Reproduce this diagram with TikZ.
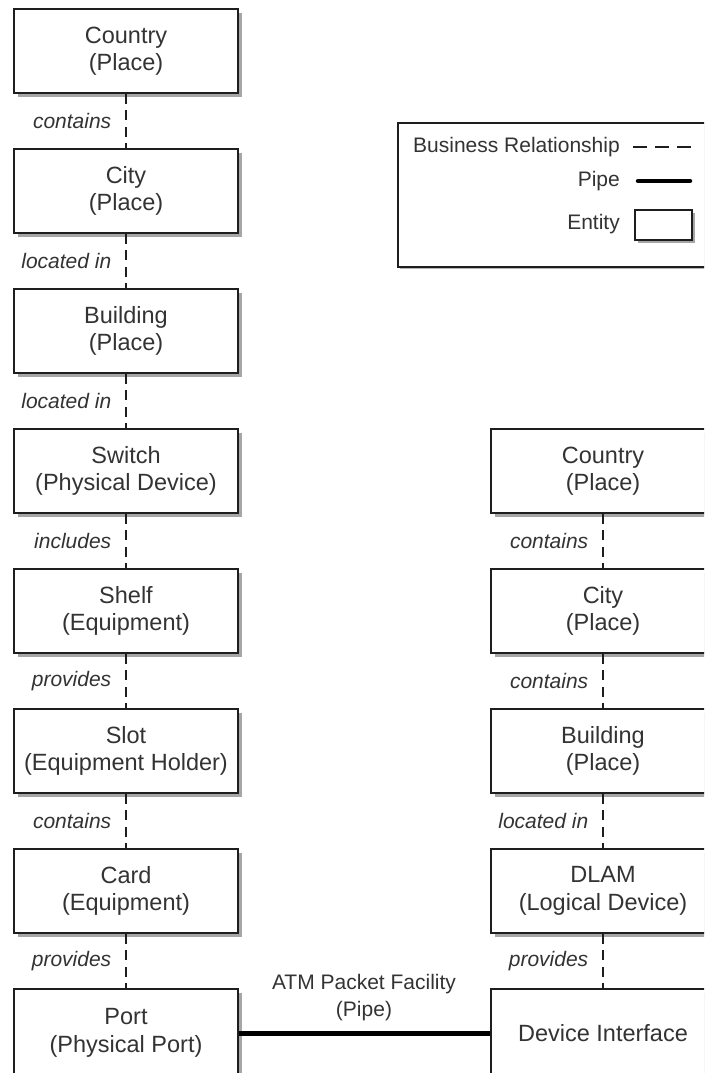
\documentclass[tikz,border=0pt]{standalone}
\usepackage{fontspec}
\setmainfont{Liberation Sans}
\usetikzlibrary{shadows}
\definecolor{txt}{HTML}{333333}
\definecolor{edge}{HTML}{1E1E1E}
\begin{document}
\begin{tikzpicture}[x=1pt,y=-1pt,
  entity/.style={draw=edge, line width=1.5pt, fill=white, minimum width=224pt, minimum height=84pt,
    inner sep=0pt, align=center, text=txt, font=\fontsize{23.5}{27.5}\selectfont,
    drop shadow={shadow xshift=4pt, shadow yshift=-4pt, fill=black, opacity=0.35}},
  lastentity/.style={entity, minimum height=88pt},
  rel/.style={draw=edge, line width=1.5pt, dash pattern=on 10pt off 6.5pt},
  lbl/.style={anchor=east, xshift=-14pt, text=txt, inner sep=0pt, font=\fontsize{21}{24}\selectfont\itshape},
  legtext/.style={anchor=east, text=txt, inner sep=0pt, font=\fontsize{21}{24}\selectfont},
  pipe/.style={draw=black, line width=5pt},
  pipelbl/.style={text=txt, align=center, inner sep=0pt, font=\fontsize{21}{27}\selectfont}]
\useasboundingbox (0,0) rectangle (704,1073);
\clip (0,0) rectangle (704,1073);

% left column
\node[entity] (a1) at (126,51)  {Country\\(Place)};
\node[entity] (a2) at (126,191) {City\\(Place)};
\node[entity] (a3) at (126,331) {Building\\(Place)};
\node[entity] (a4) at (126,471) {Switch\\(Physical Device)};
\node[entity] (a5) at (126,611) {Shelf\\(Equipment)};
\node[entity] (a6) at (126,751) {Slot\\(Equipment Holder)};
\node[entity] (a7) at (126,891) {Card\\(Equipment)};
\node[lastentity] (a8) at (126,1033) {Port\\(Physical Port)};

% right column
\node[entity] (b1) at (603,471) {Country\\(Place)};
\node[entity] (b2) at (603,611) {City\\(Place)};
\node[entity] (b3) at (603,751) {Building\\(Place)};
\node[entity] (b4) at (603,891) {DLAM\\(Logical Device)};
\node[lastentity] (b5) at (603,1033) {Device Interface};

% relationships
\draw[rel] (a1.south) -- node[lbl] (la1) {contains} (a2.north);
\draw[rel] (a2.south) -- node[lbl] (la2) {located in} (a3.north);
\draw[rel] (a3.south) -- node[lbl] (la3) {located in} (a4.north);
\draw[rel] (a4.south) -- node[lbl] (la4) {includes} (a5.north);
\draw[rel] (a5.south) -- node[lbl] (la5) {provides} (a6.north);
\draw[rel] (a6.south) -- node[lbl] (la6) {contains} (a7.north);
\draw[rel] (a7.south) -- node[lbl] (la7) {provides} (a8.north);

\draw[rel] (b1.south) -- node[lbl] (lb1) {contains} (b2.north);
\draw[rel] (b2.south) -- node[lbl] (lb2) {contains} (b3.north);
\draw[rel] (b3.south) -- node[lbl] (lb3) {located in} (b4.north);
\draw[rel] (b4.south) -- node[lbl] (lb4) {provides} (b5.north);

% pipe
\draw[pipe] (a8.east) -- (b5.west);
\node[pipelbl] (pl) at (364,998) {ATM Packet Facility\\(Pipe)};

% legend
\node[draw=edge, line width=1.5pt, fill=white, anchor=north west, minimum width=330pt, minimum height=144pt, inner sep=0pt,
  drop shadow={shadow xshift=2pt, shadow yshift=-2pt, fill=black, opacity=0.3}] (legend) at (397,122) {};
\node[legtext] (lg1) at (620,147) {Business Relationship};
\node[legtext] (lg2) at (620,181) {Pipe};
\node[legtext] (lg3) at (620,224) {Entity};
\coordinate (d1) at (633,147); \coordinate (d2) at (692,147);
\draw[draw=edge, line width=1.5pt, dash pattern=on 14pt off 8pt] (d1) -- (d2);
\coordinate (p1) at (638,181); \coordinate (p2) at (690,181);
\draw[pipe, line width=4.5pt, line cap=round] (p1) -- (p2);
\node[draw=edge, line width=1.5pt, fill=white, minimum width=57pt, minimum height=30pt, inner sep=0pt,
  drop shadow={shadow xshift=3pt, shadow yshift=-3pt, fill=black, opacity=0.35}] (le) at (663.5,225) {};
\end{tikzpicture}
\end{document}
